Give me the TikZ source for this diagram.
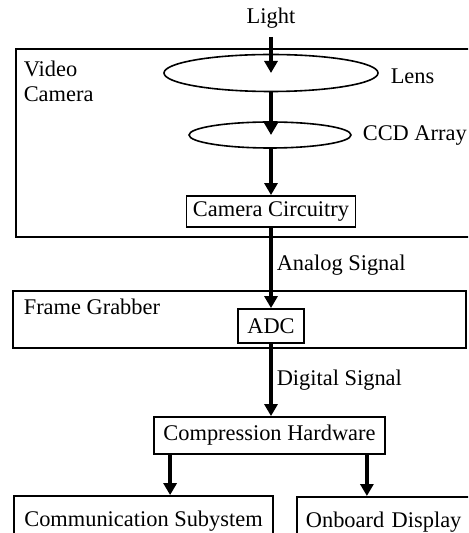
\documentclass[tikz,border=0pt]{standalone}
\usepackage{fontspec}
\setmainfont{Liberation Serif}
\usetikzlibrary{arrows.meta,shapes.geometric}

\begin{document}
\begin{tikzpicture}[x=0.5pt, y=-0.5pt, thick,
  font=\fontsize{11.2}{12.5}\selectfont,
  flow/.style={-{Triangle[width=6.5pt,length=6pt]}, line width=1.8pt},
  unit/.style={rectangle, draw, line width=0.9pt, inner sep=0pt},
  optic/.style={ellipse, draw, line width=0.8pt, inner sep=0pt},
  plain/.style={rectangle, draw=none, inner sep=0pt}]
\useasboundingbox (0,0) rectangle (468,533);
\clip (0,0) rectangle (468,533);
%%%%%%%%%%%%%%%%%%%%%%%%%%%%%%% Video camera
\draw[line width=0.9pt] (16,49) rectangle (475,237);
\node[plain, anchor=north west, align=left](camLabel) at (23,60){Video\\Camera};
\node[plain](light) at (271,18){Light};
\node[optic, minimum width=107pt, minimum height=18.5pt](lens) at (271,73){};
\node[plain, anchor=west](lensLabel) at (390,76){Lens};
\node[optic, minimum width=81pt, minimum height=13pt](ccd) at (270,135){};
\node[plain, anchor=west](ccdLabel) at (362,136){CCD Array};
\node[unit, minimum width=84.5pt, minimum height=15.5pt](circuitry) at (271,211.5){Camera Circuitry};
\draw[flow] ([yshift=-4pt]light.south) -- (lens.center);
\draw[flow] (lens.south) -- (lens.south |- ccd.center);
\draw[flow] (lens.south |- ccd.south) -- (circuitry.north);
%%%%%%%%%%%%%%%%%%%%%%%%%%%%%%% Frame grabber
\draw[line width=0.9pt] (13,291) rectangle (466,348);
\node[plain, anchor=west](fgLabel) at (23,307){Frame Grabber};
\node[unit, minimum width=33pt, minimum height=17pt](adc) at (271,326){ADC};
\draw[flow] (circuitry.south) -- node[plain, anchor=west, xshift=2pt, yshift=1.5pt]{Analog Signal}(adc.north);
%%%%%%%%%%%%%%%%%%%%%%%%%%%%%%% Compression and outputs
\node[unit, minimum width=115.5pt, minimum height=18.5pt](comp) at (269.5,435.5){Compression Hardware};
\draw[flow] (adc.south) -- node[plain, anchor=west, xshift=2pt]{Digital Signal}(adc.south |- comp.north);
\node[unit, minimum width=129.5pt, minimum height=25pt](comm) at (143.5,521){Communication Subystem};
\node[unit, anchor=north west, text width=84pt, align=left, inner xsep=4.5pt, minimum height=25pt](display) at (296,496){Onboard Display};
\draw[flow] ([xshift=8.5pt]comp.south west) -- ([xshift=8.5pt]comp.south west |- comm.north);
\draw[flow] ([xshift=-9.5pt]comp.south east) -- ([xshift=-9.5pt]comp.south east |- display.north);
\end{tikzpicture}
\end{document}
